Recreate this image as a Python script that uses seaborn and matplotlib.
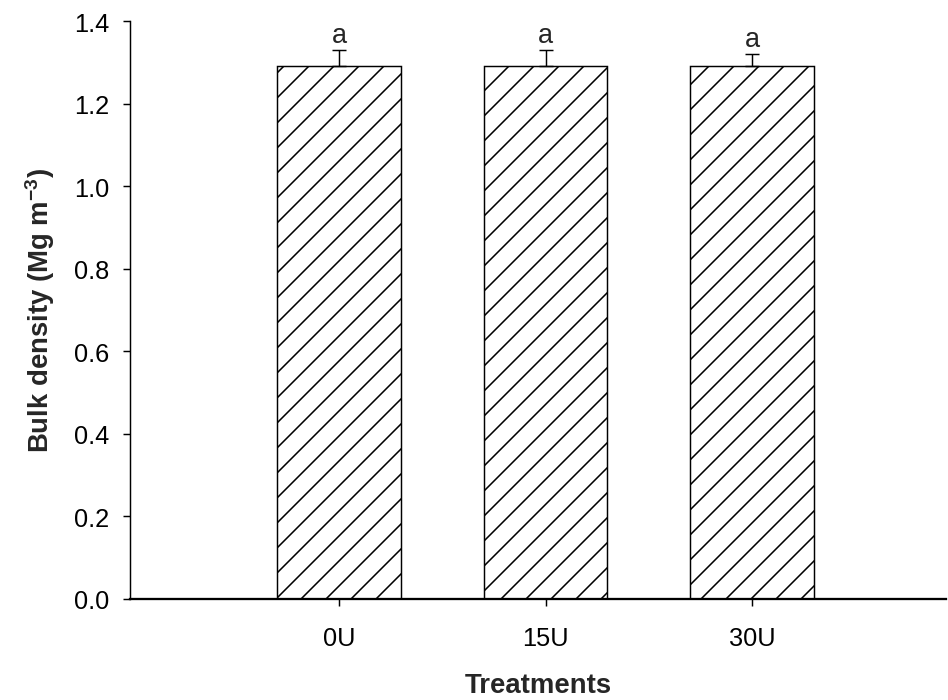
import matplotlib
matplotlib.use("Agg")
import matplotlib.pyplot as plt
import seaborn as sns
import pandas as pd

treatments = ["0U", "15U", "30U"]
bulk_density = [1.29, 1.29, 1.29]
errors = [0.04, 0.04, 0.03]
letters = ["a", "a", "a"]
y_ticks = [0.0, 0.2, 0.4, 0.6, 0.8, 1.0, 1.2, 1.4]

sns.set_theme(style="white")
plt.rcParams['font.family'] = ['Liberation Sans', 'DejaVu Sans']
plt.rcParams['hatch.linewidth'] = 0.75
plt.rcParams['mathtext.fontset'] = 'custom'
plt.rcParams['mathtext.rm'] = 'Liberation Sans'
plt.rcParams['mathtext.bf'] = 'Liberation Sans:bold'

DPI = 150
fig = plt.figure(figsize=(948 / DPI, 701 / DPI), dpi=DPI)
ax = fig.add_axes([130 / 948, 1 - 600 / 701, (946 - 130) / 948, (600 - 22) / 701])

df = pd.DataFrame({"Treatment": treatments, "BD": bulk_density})
sns.barplot(data=df, x="Treatment", y="BD", ax=ax, width=0.6,
            color="white", edgecolor="black", linewidth=0.7, errorbar=None)
for p in ax.patches:
    p.set_hatch("//")
    p.set_facecolor("white")
    p.set_edgecolor("black")

xs = list(range(len(treatments)))
ax.errorbar(xs, bulk_density, yerr=[[0] * len(errors), errors], fmt="none",
            ecolor="black", elinewidth=0.7, capsize=3.4, capthick=0.7)
for x, m, e, t in zip(xs, bulk_density, errors, letters):
    ax.annotate(t, (x, m + e), xytext=(0, 4), textcoords="offset points",
                ha="center", va="baseline", fontsize=13)

ax.set_xlim(-1.012, 2.939)
ax.set_ylim(0, 1.4)
ax.set_yticks(y_ticks)
ax.set_yticklabels([f"{v:.1f}" for v in y_ticks])
ax.tick_params(axis="both", labelsize=12.2, length=3.5, width=0.7,
               colors="black", direction="out")
ax.tick_params(axis="x", pad=9.5)
ax.tick_params(axis="y", pad=6.5, left=True)
ax.tick_params(axis="x", bottom=True)
for s in ["top", "right"]:
    ax.spines[s].set_visible(False)
ax.spines["left"].set_linewidth(0.7)
ax.spines["bottom"].set_linewidth(1.1)
ax.spines["left"].set_color("black")
ax.spines["bottom"].set_color("black")

ax.set_xlabel("Treatments", fontsize=13.2, fontweight="bold", labelpad=10.5)
ax.set_ylabel(r"Bulk density (Mg m$^{\mathbf{-3}}$)", fontsize=13.2,
              fontweight="bold", labelpad=8)

fig.savefig("out.png", dpi=DPI, facecolor="white")
